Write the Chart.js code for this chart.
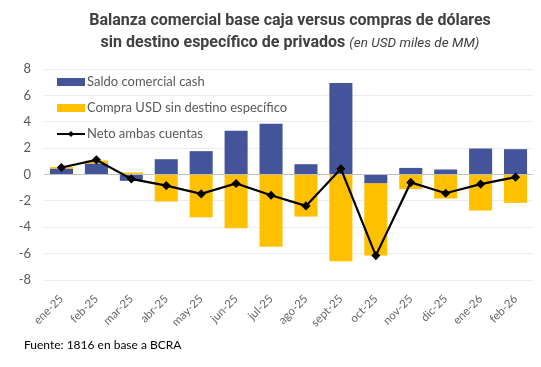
<!DOCTYPE html>
<html>
<head>
<meta charset="utf-8">
<script src="https://cdn.jsdelivr.net/npm/chart.js@4"></script>
<style>
  body { margin: 0; background: #fff; }
  #wrap { position: relative; width: 541px; height: 367px; }
  #myChart { position: absolute; left: 0; top: 0; }
  .title { position: absolute; left: 60px; width: 460px; text-align: center; color: #404040;
           font-family: Roboto, "Noto Sans", sans-serif; font-weight: bold; font-size: 16px; }
  .title i { font-weight: normal; font-size: 13.5px; }
  #source { position: absolute; left: 24px; top: 337px; font-family: Lato, "Open Sans", sans-serif;
            font-size: 12px; color: #000; }
</style>
</head>
<body>
<div id="wrap">
  <canvas id="myChart" width="541" height="367"></canvas>
  <div class="title" style="top:10px">Balanza comercial base caja versus compras de dólares</div>
  <div class="title" style="top:32px">sin destino específico de privados <i>(en USD miles de MM)</i></div>
  <div id="source">Fuente: 1816 en base a BCRA</div>
</div>
<script>
const months = ['ene-25', 'feb-25', 'mar-25', 'abr-25', 'may-25', 'jun-25', 'jul-25',
                'ago-25', 'sept-25', 'oct-25', 'nov-25', 'dic-25', 'ene-26', 'feb-26'];
const saldoComercial = [0.43, 0.81, -0.48, 1.16, 1.77, 3.32, 3.85, 0.78, 6.94, -0.66, 0.5, 0.38, 1.97, 1.92];
const compraUSD = [0.13, 0.25, 0.15, -2.05, -3.24, -4.08, -5.47, -3.19, -6.58, -5.49, -1.11, -1.82, -2.73, -2.15];
const neto = [0.53, 1.11, -0.33, -0.84, -1.47, -0.68, -1.57, -2.38, 0.43, -6.15, -0.6, -1.42, -0.73, -0.2];
const yTicks = [-8, -6, -4, -2, 0, 2, 4, 6, 8];

const BLUE = '#44549a';
const GOLD = '#ffc000';

// legend drawn inside the plot area, top-left
const insideLegend = {
    id: 'insideLegend',
    afterDraw(chart) {
        const ctx = chart.ctx;
        const x = chart.chartArea.left + 13;
        const rows = [
            { label: 'Saldo comercial cash', type: 'box', color: BLUE },
            { label: 'Compra USD sin destino específico', type: 'box', color: GOLD },
            { label: 'Neto ambas cuentas', type: 'line', color: '#000' }
        ];
        ctx.save();
        ctx.font = '13px Lato, "Open Sans", sans-serif';
        ctx.textBaseline = 'middle';
        rows.forEach((r, i) => {
            const y = 82 + i * 26;
            if (r.type === 'box') {
                ctx.fillStyle = r.color;
                ctx.fillRect(x, y - 4, 28, 8);
            } else {
                ctx.strokeStyle = r.color;
                ctx.lineWidth = 2;
                ctx.beginPath();
                ctx.moveTo(x, y);
                ctx.lineTo(x + 28, y);
                ctx.stroke();
                ctx.fillStyle = r.color;
                ctx.beginPath();
                ctx.moveTo(x + 14, y - 3);
                ctx.lineTo(x + 17, y);
                ctx.lineTo(x + 14, y + 3);
                ctx.lineTo(x + 11, y);
                ctx.closePath();
                ctx.fill();
            }
            ctx.fillStyle = '#595959';
            ctx.fillText(r.label, x + 30, y);
        });
        ctx.restore();
    }
};

const config = {
    type: 'bar',
    data: {
        labels: months,
        datasets: [{
            label: 'Saldo comercial cash',
            data: saldoComercial,
            backgroundColor: BLUE,
            stack: 'bars',
            order: 2
        }, {
            label: 'Compra USD sin destino específico',
            data: compraUSD,
            backgroundColor: GOLD,
            stack: 'bars',
            order: 2
        }, {
            type: 'line',
            label: 'Neto ambas cuentas',
            data: neto,
            borderColor: '#000',
            backgroundColor: '#000',
            borderWidth: 2.2,
            pointStyle: 'rectRot',
            pointRadius: 3,
            pointHoverRadius: 3,
            tension: 0,
            stack: 'line',
            order: 1
        }]
    },
    options: {
        responsive: false,
        animation: false,
        layout: { padding: { top: 69, right: 8, left: 0, bottom: 0 } },
        datasets: { bar: { barPercentage: 0.66, categoryPercentage: 1 } },
        scales: {
            x: {
                stacked: true,
                grid: { display: false },
                border: { display: false },
                ticks: {
                    color: '#666666',
                    font: { family: 'Lato, "Open Sans", sans-serif', size: 11.5 },
                    minRotation: 45,
                    maxRotation: 45,
                    padding: 4
                },
                afterFit: (scale) => { scale.height = 87; }
            },
            y: {
                stacked: true,
                min: -8,
                max: 8,
                afterBuildTicks: (scale) => { scale.ticks = yTicks.map(v => ({ value: v })); },
                grid: {
                    color: (c) => c.tick && c.tick.value === 0 ? '#bfbfbf' : '#ececec',
                    drawTicks: false
                },
                border: { display: false },
                ticks: {
                    color: '#595959',
                    font: { family: 'Lato, "Open Sans", sans-serif', size: 13 },
                    padding: 13
                },
                afterFit: (scale) => { scale.width = 44; }
            }
        },
        plugins: {
            legend: { display: false },
            tooltip: { enabled: false }
        }
    },
    plugins: [insideLegend]
};

window.addEventListener('load', () => {
    const ctx = document.getElementById('myChart').getContext('2d');
    new Chart(ctx, config);
});
</script>
</body>
</html>
